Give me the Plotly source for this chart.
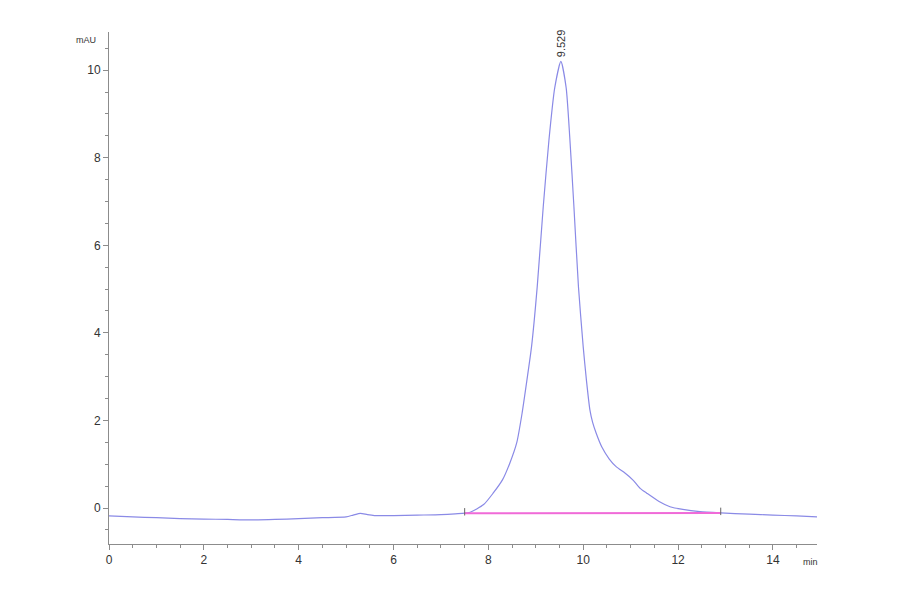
import plotly.graph_objects as go

# Chromatogram data (min, mAU)
time_min = [0, 0.5, 1, 1.5, 2, 2.5, 3, 3.5, 4, 4.5, 5, 5.15, 5.3, 5.45, 5.6, 6, 6.5, 7, 7.3,
            7.6, 7.9, 8.1, 8.3, 8.45, 8.6, 8.71, 8.81, 8.91, 9.03, 9.157, 9.277, 9.40, 9.529,
            9.64, 9.72, 9.804, 9.90, 10.0, 10.07, 10.14, 10.2, 10.27, 10.39, 10.55, 10.70,
            10.88, 11.05, 11.2, 11.34, 11.6, 11.83, 12.1, 12.46, 12.9, 13.5, 14, 14.5, 14.93]
absorb_mau = [-0.18, -0.20, -0.22, -0.24, -0.25, -0.26, -0.27, -0.26, -0.24, -0.22, -0.20,
              -0.16, -0.12, -0.15, -0.17, -0.17, -0.16, -0.15, -0.13, -0.10, 0.08, 0.34,
              0.65, 1.02, 1.5, 2.16, 2.9, 3.68, 5.05, 6.88, 8.40, 9.6, 10.2, 9.6, 8.40, 6.88,
              5.05, 3.68, 2.9, 2.25, 1.95, 1.72, 1.40, 1.12, 0.94, 0.80, 0.64, 0.45, 0.34,
              0.15, 0.03, -0.03, -0.08, -0.11, -0.14, -0.16, -0.18, -0.20]

# Integration baseline
base_t = [7.5, 12.9]
base_y = [-0.12, -0.11]

peak_t = 9.529
peak_y = 10.2
peak_label = "9.529"

x_ticks = [0, 2, 4, 6, 8, 10, 12, 14]
y_ticks = [0, 2, 4, 6, 8, 10]

fig = go.Figure()
fig.add_trace(go.Scatter(x=time_min, y=absorb_mau, mode="lines",
                         line=dict(color="#8a8ae6", width=1.2, shape="spline", smoothing=0.6),
                         hoverinfo="skip", showlegend=False))
fig.add_trace(go.Scatter(x=base_t, y=base_y, mode="lines",
                         line=dict(color="#f06ad8", width=2),
                         hoverinfo="skip", showlegend=False))
# baseline start / end markers
for t, yv in zip(base_t, base_y):
    fig.add_trace(go.Scatter(x=[t, t], y=[yv - 0.05, yv + 0.12], mode="lines",
                             line=dict(color="#666666", width=1),
                             hoverinfo="skip", showlegend=False))

fig.add_annotation(x=peak_t, y=peak_y, text=peak_label, textangle=-90, showarrow=False,
                   xanchor="center", yanchor="bottom", yshift=2,
                   font=dict(family="Liberation Sans", size=11, color="#333333"))
fig.add_annotation(xref="paper", yref="paper", x=-0.015, y=0.985, text="mAU", showarrow=False,
                   xanchor="right", yanchor="middle",
                   font=dict(family="Liberation Sans", size=9, color="#333333"))
fig.add_annotation(xref="paper", yref="paper", x=0.978, y=-0.035, text="min", showarrow=False,
                   xanchor="left", yanchor="middle",
                   font=dict(family="Liberation Sans", size=9, color="#333333"))

axis_common = dict(showgrid=False, zeroline=False, showline=True, linecolor="#8c8c8c",
                   linewidth=1, ticks="outside", ticklen=5, tickcolor="#8c8c8c",
                   tickfont=dict(family="Liberation Sans", size=12, color="#333333"))
fig.update_xaxes(range=[0, 14.93], tickvals=x_ticks,
                 minor=dict(dtick=0.5, ticks="outside", ticklen=3, tickcolor="#8c8c8c"),
                 **axis_common)
fig.update_yaxes(range=[-0.82, 10.87], tickvals=y_ticks,
                 minor=dict(dtick=0.5, ticks="outside", ticklen=3, tickcolor="#8c8c8c"),
                 **axis_common)
fig.update_layout(width=900, height=594, margin=dict(l=101, r=91, t=24, b=58),
                  plot_bgcolor="white", paper_bgcolor="white")
fig.write_html("out.html")
